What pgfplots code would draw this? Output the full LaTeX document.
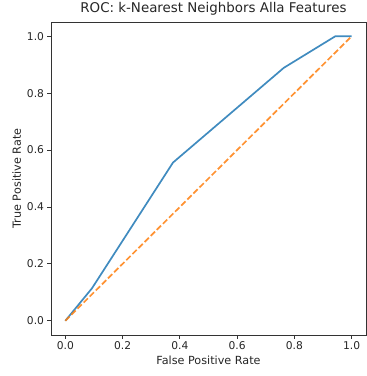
\documentclass[border=0pt]{standalone}
\usepackage{pgfplots}
\pgfplotsset{compat=1.18}
\usepackage{fontspec}
\setmainfont{DejaVu Sans}
\definecolor{mplblue}{HTML}{1F77B4}
\definecolor{mplorange}{HTML}{FF7F0E}
\begin{document}
\begin{tikzpicture}[x=1pt,y=1pt]
\useasboundingbox (0,0) rectangle (367,376);
\begin{axis}[
  at={(51pt,41pt)}, anchor=south west,
  scale only axis, width=315pt, height=313pt,
  xmin=-0.05, xmax=1.05, ymin=-0.05, ymax=1.05,
  xtick={0,0.2,0.4,0.6,0.8,1.0}, ytick={0,0.2,0.4,0.6,0.8,1.0},
  xticklabel style={/pgf/number format/.cd,fixed,fixed zerofill,precision=1},
  yticklabel style={/pgf/number format/.cd,fixed,fixed zerofill,precision=1},
  /pgf/number format/assume math mode=true,
  tick label style={font=\fontsize{10.7}{12}\selectfont, text=black!85},
  label style={font=\fontsize{11.2}{13}\selectfont, text=black!85},
  title style={font=\fontsize{13.4}{16}\selectfont, text=black!85, yshift=-3pt, xshift=5pt},
  title={ROC: k-Nearest Neighbors Alla Features},
  xlabel={False Positive Rate}, ylabel={True Positive Rate},
  xlabel style={yshift=1pt}, ylabel style={yshift=-1pt},
  tick align=outside, xtick pos=bottom, ytick pos=left,
  major tick length=3.5pt,
  every tick/.style={black!80, line width=0.8pt},
  axis line style={black!80, line width=0.8pt},
  clip=false,
]
\addplot[mplblue, opacity=0.85, line width=1.7pt] coordinates {
 (0,0) (0.093,0.114) (0.376,0.556) (0.763,0.889) (0.943,1.0) (1.0,1.0)
};
\addplot[mplorange, opacity=0.85, line width=1.7pt, dash pattern=on 6pt off 2.6pt] coordinates {
 (0,0) (1,1)
};
\end{axis}
\end{tikzpicture}
\end{document}
